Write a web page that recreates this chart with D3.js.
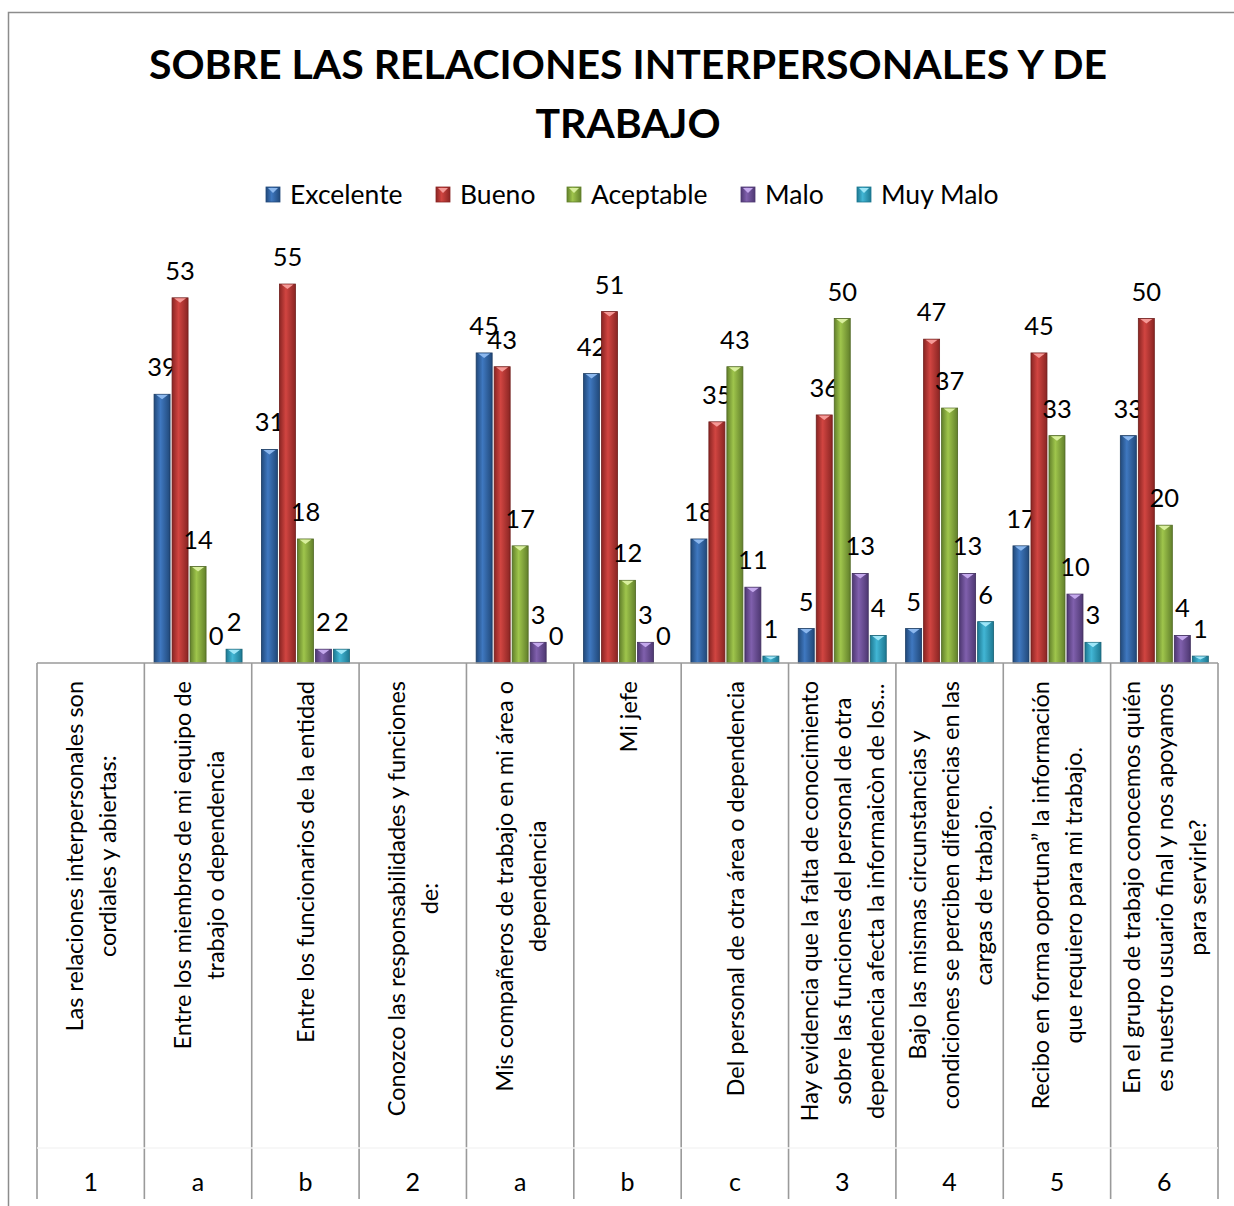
<!DOCTYPE html>
<html>
<head>
<meta charset="utf-8">
<script src="https://cdn.jsdelivr.net/npm/d3@7"></script>
<style>
  body { margin: 0; background: #fff; }
  text { font-family: Lato, "Open Sans", sans-serif; fill: #000; }
</style>
</head>
<body>
<svg width="1234" height="1206"></svg>
<script>
// question groups (bottom row) and question texts (rotated row)
var groups = ["1", "a", "b", "2", "a", "b", "c", "3", "4", "5", "6"];
var questions = [
  ["Las relaciones interpersonales son", "cordiales y abiertas:"],
  ["Entre los miembros de mi equipo de", "trabajo o dependencia"],
  ["Entre los funcionarios de la entidad"],
  ["Conozco las responsabilidades y funciones", "de:"],
  ["Mis compañeros de trabajo en mi área o", "dependencia"],
  ["Mi jefe"],
  ["Del personal de otra área o dependencia"],
  ["Hay evidencia que la falta de conocimiento", "sobre las funciones del personal de otra", "dependencia afecta la informaicòn de los..."],
  ["Bajo las mismas circunstancias y", "condiciones se perciben diferencias en las", "cargas de trabajo."],
  ["Recibo en forma oportuna\u201d la información", "que requiero para mi trabajo."],
  ["En el grupo de trabajo conocemos quién", "es nuestro usuario final y nos apoyamos", "para servirle?"]
];

var seriesNames = ["Excelente", "Bueno", "Aceptable", "Malo", "Muy Malo"];
var excelente = [null, 39, 31, null, 45, 42, 18, 5, 5, 17, 33];
var bueno     = [null, 53, 55, null, 43, 51, 35, 36, 47, 45, 50];
var aceptable = [null, 14, 18, null, 17, 12, 43, 50, 37, 33, 20];
var malo      = [null, 0, 2, null, 3, 3, 11, 13, 13, 10, 4];
var muyMalo   = [null, 2, 2, null, 0, 0, 1, 4, 6, 3, 1];
var seriesValues = [excelente, bueno, aceptable, malo, muyMalo];

// dark edge, light centre, tip highlight for each series
var palette = [
  {dark: "#21497a", light: "#3f78c0", tip: "#8cb8ee"},
  {dark: "#8a2523", light: "#d14541", tip: "#f59a97"},
  {dark: "#62802b", light: "#9fc54c", tip: "#d9ef9e"},
  {dark: "#4e3872", light: "#8060ad", tip: "#c4a8ec"},
  {dark: "#1d7891", light: "#42b6d5", tip: "#9ee6f8"}
];

var svg = d3.select("svg");
var defs = svg.append("defs");

var plot = {left: 37, right: 1218, base: 663};

var x0 = d3.scaleBand()
    .domain(d3.range(groups.length))
    .range([plot.left, plot.right]);
var x1 = d3.scaleBand()
    .domain(seriesNames)
    .range([9.7, 97.7])
    .paddingInner(0.111);
var y = d3.scaleLinear()
    .domain([0, 60])
    .range([plot.base, plot.base - 60 * 6.89]);

palette.forEach((c, i) => {
  var g = defs.append("linearGradient")
      .attr("id", "grad" + i)
      .attr("x1", "0%").attr("x2", "100%").attr("y1", "0%").attr("y2", "0%");
  g.append("stop").attr("offset", "0%").attr("stop-color", c.dark);
  g.append("stop").attr("offset", "40%").attr("stop-color", c.light);
  g.append("stop").attr("offset", "100%").attr("stop-color", c.dark);
});

// chart frame
svg.append("rect")
    .attr("x", 8.5).attr("y", 12.5)
    .attr("width", 1240).attr("height", 1220)
    .attr("fill", "none")
    .attr("stroke", "#8c8c8c")
    .attr("stroke-width", 1.5);

// title
var title = svg.append("text")
    .attr("text-anchor", "middle")
    .attr("font-weight", "bold")
    .attr("font-size", 41);
title.append("tspan").attr("x", 628).attr("y", 79).text("SOBRE LAS RELACIONES INTERPERSONALES Y DE");
title.append("tspan").attr("x", 628).attr("y", 138).text("TRABAJO");

// legend
var legendX = [266, 436, 567, 741, 857];
var legend = svg.append("g").selectAll("g")
    .data(seriesNames)
    .join("g")
    .attr("transform", (d, i) => `translate(${legendX[i]},187)`);
legend.append("rect")
    .attr("width", 14).attr("height", 15)
    .attr("fill", (d, i) => `url(#grad${i})`)
    .attr("stroke", (d, i) => palette[i].dark)
    .attr("stroke-width", 0.8);
legend.append("path")
    .attr("d", "M2,1L12,1L7,6Z")
    .attr("fill", (d, i) => palette[i].tip);
legend.append("text")
    .attr("x", 24).attr("y", 17)
    .attr("font-size", 26.5)
    .text(d => d);

// bars
var cells = [];
seriesValues.forEach((vals, s) => {
  vals.forEach((v, c) => {
    if (v !== null) cells.push({c: c, s: s, v: v});
  });
});

var bars = svg.append("g").selectAll("g")
    .data(cells)
    .join("g")
    .attr("transform", d => `translate(${x0(d.c) + x1(seriesNames[d.s])},0)`);

bars.filter(d => d.v > 0).append("rect")
    .attr("y", d => y(d.v))
    .attr("width", x1.bandwidth())
    .attr("height", d => y(0) - y(d.v))
    .attr("fill", d => `url(#grad${d.s})`)
    .attr("stroke", d => d3.color(palette[d.s].dark).darker(0.6))
    .attr("stroke-width", 0.8);

bars.filter(d => d.v > 0).append("path")
    .attr("d", d => {
      var w = x1.bandwidth(), t = y(d.v);
      var h = Math.min(5, (y(0) - t) / 2);
      return `M2,${t + 0.5}L${w - 2},${t + 0.5}L${w / 2},${t + h}Z`;
    })
    .attr("fill", d => palette[d.s].tip);

bars.append("text")
    .attr("x", x1.bandwidth() / 2)
    .attr("y", d => y(d.v) - 18)
    .attr("text-anchor", "middle")
    .attr("font-size", 25.5)
    .text(d => d.v);

// category axis: baseline and separators
var axis = svg.append("g").attr("stroke", "#9a9a9a").attr("stroke-width", 1.6);
axis.append("line")
    .attr("x1", plot.left).attr("x2", plot.right)
    .attr("y1", plot.base).attr("y2", plot.base);
axis.selectAll("line.sep")
    .data(d3.range(groups.length + 1))
    .join("line")
    .attr("class", "sep")
    .attr("x1", i => i < groups.length ? x0(i) : plot.right)
    .attr("x2", i => i < groups.length ? x0(i) : plot.right)
    .attr("y1", plot.base).attr("y2", 1199);
axis.append("line")
    .attr("x1", plot.left).attr("x2", plot.right)
    .attr("y1", 1148).attr("y2", 1148)
    .attr("stroke", "#f4f4f4");

// rotated question labels: block top-aligned under the axis, lines centred
var lineH = 33;
var qGroups = svg.append("g").selectAll("g")
    .data(questions)
    .join("g");
qGroups.each(function(lines, i) {
  var g = d3.select(this);
  var t = g.append("text")
      .attr("text-anchor", "middle")
      .attr("font-size", 23.5);
  lines.forEach((ln, k) => {
    t.append("tspan")
      .attr("x", 0)
      .attr("y", (k - (lines.length - 1) / 2) * lineH)
      .text(ln);
  });
  var maxW = d3.max(t.selectAll("tspan").nodes(), n => n.getComputedTextLength());
  var cx = x0(i) + x0.bandwidth() / 2 + 9;
  var cy = 681 + maxW / 2;
  g.attr("transform", `translate(${cx},${cy}) rotate(-90)`);
});

// group labels
svg.append("g").selectAll("text")
    .data(groups)
    .join("text")
    .attr("x", (d, i) => x0(i) + x0.bandwidth() / 2)
    .attr("y", 1191)
    .attr("text-anchor", "middle")
    .attr("font-size", 25)
    .text(d => d);
</script>
</body>
</html>
